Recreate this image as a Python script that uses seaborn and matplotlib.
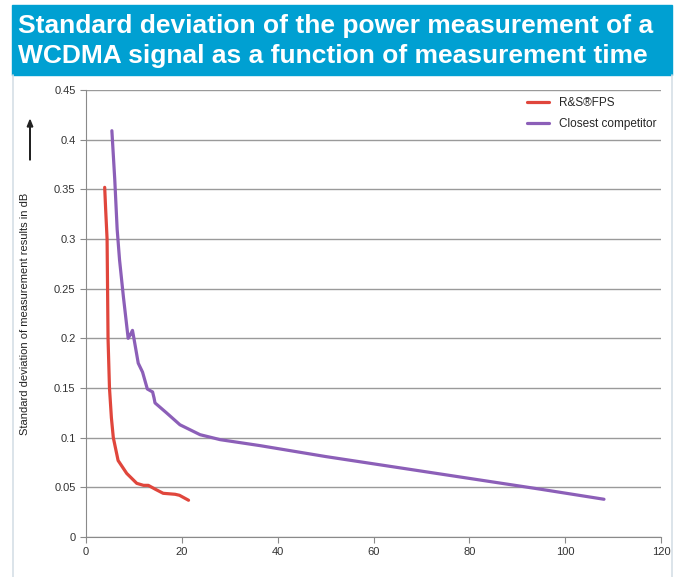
import matplotlib
matplotlib.use("Agg")
import matplotlib.pyplot as plt
from matplotlib.lines import Line2D
from matplotlib.patches import Rectangle
import seaborn as sns
import pandas as pd

# R&S FPS curve (measurement time vs std deviation in dB)
fps_x = [3.9, 4.1, 4.4, 4.6, 4.9, 5.3, 5.7, 6.7, 8.5, 10.6, 12.0, 13.0, 14.5, 16.1, 18.6, 19.5, 21.4]
fps_y = [0.352, 0.33, 0.30, 0.20, 0.15, 0.12, 0.10, 0.077, 0.064, 0.054, 0.052, 0.052, 0.048, 0.044, 0.043, 0.042, 0.037]

# closest competitor curve
comp_x = [5.4, 6.0, 6.5, 7.0, 7.8, 8.8, 9.3, 9.7, 10.0, 10.9, 11.8, 12.8, 13.9, 14.2, 14.4, 16.8, 19.6, 23.8, 28.0, 36.3, 50.0, 65.0, 80.0, 95.0, 108.1]
comp_y = [0.409, 0.36, 0.31, 0.279, 0.242, 0.200, 0.204, 0.208, 0.200, 0.175, 0.166, 0.149, 0.146, 0.140, 0.135, 0.125, 0.113, 0.103, 0.098, 0.092, 0.081, 0.070, 0.059, 0.048, 0.038]

series = ["R&S®FPS", "Closest competitor"]
colors = ["#e0463c", "#8c5fb8"]

df = pd.concat([
    pd.DataFrame({"time": fps_x, "std": fps_y, "series": series[0]}),
    pd.DataFrame({"time": comp_x, "std": comp_y, "series": series[1]}),
])

sns.set_style("white")
plt.rcParams["font.family"] = ["Liberation Sans", "DejaVu Sans"]

fig = plt.figure(figsize=(6.89, 5.77), dpi=100)

# title banner
fig.patches.append(Rectangle((12 / 689, 1 - 75 / 577), 660 / 689, 70 / 577,
                             transform=fig.transFigure, color="#00a0d2", zorder=0))
fig.text(18 / 689, 1 - 26 / 577, "Standard deviation of the power measurement of a",
         color="white", fontsize=19, fontweight="bold", va="center", ha="left")
fig.text(18 / 689, 1 - 56 / 577, "WCDMA signal as a function of measurement time",
         color="white", fontsize=19, fontweight="bold", va="center", ha="left")
# light panel border
for xp in (12.5, 671.5):
    fig.lines.append(Line2D([xp / 689, xp / 689], [0, 1 - 75 / 577],
                            transform=fig.transFigure, color="#d5dfe6", lw=1.2))

ax = fig.add_axes([86 / 689, 40 / 577, 575 / 689, 447 / 577])
sns.lineplot(data=df, x="time", y="std", hue="series", palette=colors,
             sort=False, estimator=None, lw=2.3, ax=ax)

ax.set_xlim(0, 120)
ax.set_ylim(0, 0.45)
ax.set_xticks(range(0, 121, 20))
ax.set_yticks([0, 0.05, 0.1, 0.15, 0.2, 0.25, 0.3, 0.35, 0.4, 0.45])
ax.set_yticklabels(["0", "0.05", "0.1", "0.15", "0.2", "0.25", "0.3", "0.35", "0.4", "0.45"])
ax.yaxis.grid(True, color="#9a9a9a", lw=1)
ax.set_axisbelow(True)
for s in ("top", "right"):
    ax.spines[s].set_visible(False)
for s in ("left", "bottom"):
    ax.spines[s].set_color("#8a8a8a")
ax.tick_params(axis="both", length=4, color="#8a8a8a", labelsize=8, labelcolor="#333333",
               direction="out", bottom=True, left=True)
ax.set_xlabel("")
ax.set_ylabel("Standard deviation of measurement results in dB",
              fontsize=8, color="#222222")
ax.yaxis.set_label_coords(-56 / 575, 0.5)

# arrow above the axis label
fig.patches.append(matplotlib.patches.FancyArrow(
    30 / 689, 1 - 160 / 577, 0, 40 / 577, width=0.0008, head_width=0.008,
    head_length=0.012, length_includes_head=True, color="#222222",
    transform=fig.transFigure))

leg = ax.legend(loc="upper right", frameon=False, fontsize=8.5, handlelength=1.9,
                labelspacing=0.75, bbox_to_anchor=(1.0, 0.995), borderaxespad=0)
leg.set_title(None)

fig.savefig("out.png", dpi=100)
